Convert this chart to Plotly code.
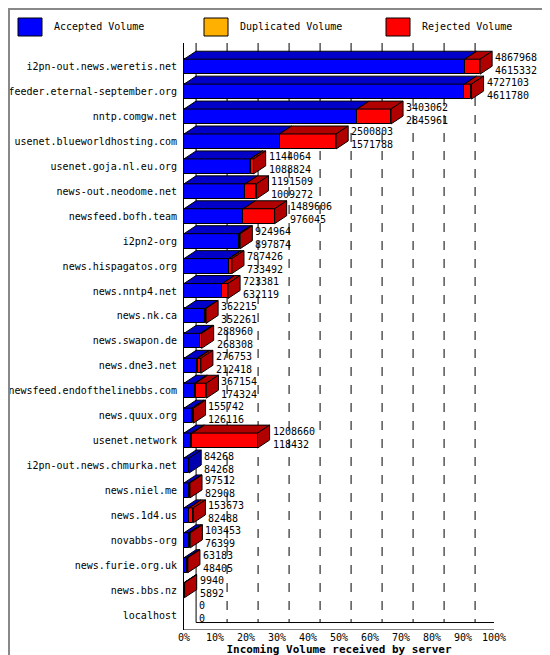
import plotly.graph_objects as go

servers = ["i2pn-out.news.weretis.net", "feeder.eternal-september.org", "nntp.comgw.net",
           "usenet.blueworldhosting.com", "usenet.goja.nl.eu.org", "news-out.neodome.net",
           "newsfeed.bofh.team", "i2pn2-org", "news.hispagatos.org", "news.nntp4.net",
           "news.nk.ca", "news.swapon.de", "news.dne3.net", "newsfeed.endofthelinebbs.com",
           "news.quux.org", "usenet.network", "i2pn-out.news.chmurka.net", "news.niel.me",
           "news.1d4.us", "novabbs-org", "news.furie.org.uk", "news.bbs.nz", "localhost"]
total = [4867968, 4727103, 3403062, 2500803, 1144064, 1191509, 1489606, 924964, 787426,
         723381, 362215, 288960, 276753, 367154, 155742, 1208660, 84268, 97512, 153673,
         103453, 63183, 9940, 0]
accepted = [4615332, 4611780, 2845961, 1571788, 1088824, 1009272, 976045, 897874, 733492,
            632119, 352261, 268308, 212418, 174324, 126116, 118432, 84268, 82908, 82488,
            76399, 48405, 5892, 0]
duplicated = [0, 0, 0, 0, 5000, 0, 0, 0, 8000, 0, 0, 0, 12000, 15000, 0, 20000, 0, 0, 0,
              0, 0, 0, 0]
pct_ticks = [0, 10, 20, 30, 40, 50, 60, 70, 80, 90, 100]

scale = 95.5 / max(total)
D, DY, H = 3.9, 0.32, 0.3
font = "DejaVu Sans Mono, monospace"

fig = go.Figure()
segs = [("Accepted Volume", "#0000ff", "#0000b0", "#0000c8"),
        ("Duplicated Volume", "#ffb000", "#c08000", "#d09000"),
        ("Rejected Volume", "#ff0000", "#b00000", "#b00000")]
for i, name in enumerate(servers):
    a = accepted[i]
    d = duplicated[i]
    r = max(total[i] - a - d, 0)
    x0 = 0.0
    last = None
    for (lab, front, side, top), v in zip(segs, [a, d, r]):
        w = v * scale
        if w <= 0:
            continue
        fig.add_trace(go.Bar(y=[i], x=[w], base=[x0], orientation="h", width=2 * H,
                             marker=dict(color=front, line=dict(color="black", width=1)),
                             showlegend=False, hoverinfo="skip"))
        fig.add_trace(go.Scatter(x=[x0, x0 + w, x0 + w + D, x0 + D, x0],
                                 y=[i - H, i - H, i - H - DY, i - H - DY, i - H],
                                 fill="toself", fillcolor=top, mode="lines",
                                 line=dict(color="black", width=1), showlegend=False,
                                 hoverinfo="skip"))
        x0 += w
        last = side
    if last:
        fig.add_trace(go.Scatter(x=[x0, x0 + D, x0 + D, x0, x0],
                                 y=[i - H, i - H - DY, i + H - DY, i + H, i - H],
                                 fill="toself", fillcolor=last, mode="lines",
                                 line=dict(color="black", width=1), showlegend=False,
                                 hoverinfo="skip"))
    fig.add_annotation(x=x0 + D + 0.3, y=i - 0.12, text=f"{total[i]}<br>{accepted[i]}",
                       showarrow=False, xanchor="left", yanchor="middle", align="left",
                       font=dict(family=font, size=10, color="black"))

for p in pct_ticks[1:-1]:
    fig.add_shape(type="line", x0=p + D, x1=p + D, y0=-0.95, y1=22.3,
                  line=dict(color="black", width=1, dash="dash"), layer="below")
for p in [D, 100 + D]:
    fig.add_shape(type="line", x0=p, x1=p, y0=-0.95, y1=22.3,
                  line=dict(color="black", width=1), layer="below")
fig.add_shape(type="line", x0=0, x1=100, y0=22.6, y1=22.6, line=dict(color="black", width=1))
fig.add_shape(type="line", x0=D, x1=100 + D, y0=22.3, y1=22.3, line=dict(color="black", width=1))
fig.add_shape(type="line", x0=100, x1=100 + D, y0=22.6, y1=22.3, line=dict(color="black", width=1))

for (lab, front, side, top), px in zip(segs, [10, 196, 378]):
    xp = (px - 176) / 310
    fig.add_shape(type="rect", xref="paper", yref="paper", x0=xp, x1=xp + 24 / 310,
                  y0=(622 - 28) / 587, y1=(622 - 10) / 587, fillcolor=front,
                  line=dict(color="black", width=1))
    fig.add_annotation(xref="paper", yref="paper", x=xp + 34 / 310, y=(622 - 19) / 587,
                       text=lab, showarrow=False, xanchor="left", yanchor="middle",
                       font=dict(family=font, size=10, color="black"))

fig.update_layout(
    width=550, height=655, margin=dict(l=176, r=64, t=35, b=33),
    plot_bgcolor="white", paper_bgcolor="white", barmode="overlay", bargap=0,
    font=dict(family=font, size=10, color="black"),
    xaxis=dict(range=[0, 100], tickvals=pct_ticks, ticktext=[f"{p}%" for p in pct_ticks],
               showgrid=False, zeroline=False, showline=False, ticks="", automargin=False,
               tickfont=dict(size=10),
               title=dict(text="<b>Incoming Volume received by server</b>", standoff=0,
                          font=dict(family=font, size=11))),
    yaxis=dict(range=[22.6, -0.95], tickvals=list(range(len(servers))), ticktext=servers,
               showgrid=False, zeroline=False, showline=True, linecolor="black",
               ticks="", ticklabelstandoff=4, automargin=False, tickfont=dict(size=10)),
    shapes=list(fig.layout.shapes) + [dict(type="rect", xref="paper", yref="paper",
                x0=-175 / 310, x1=373 / 310, y0=-32 / 587, y1=621 / 587,
                line=dict(color="#888888", width=2))],
)
fig.write_html("out.html")
